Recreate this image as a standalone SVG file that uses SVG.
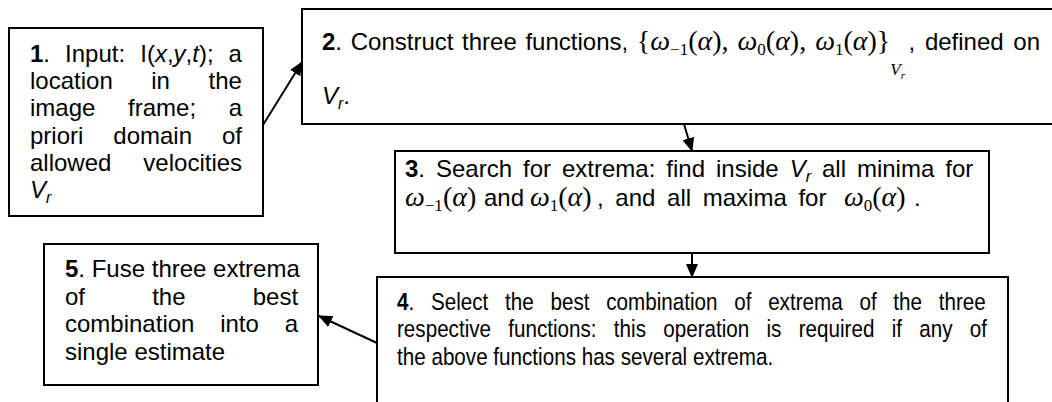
<svg xmlns="http://www.w3.org/2000/svg" width="1052" height="402" viewBox="0 0 1052 402">
<style>
.box{fill:#fff;stroke:#000;stroke-width:2}
.t{font-family:"Liberation Sans",Arial,sans-serif;font-size:24px;fill:#000}
.b{font-weight:bold}
.i{font-style:italic}
.sub{font-size:16px}
.m{font-family:"Liberation Serif","Times New Roman",serif;font-size:28px;font-style:italic}
.mr{font-family:"Liberation Serif","Times New Roman",serif;font-size:28px;font-style:normal}
.ms{font-family:"Liberation Serif","Times New Roman",serif;font-size:17px;font-style:normal}
.conn line{stroke:#000;stroke-width:2;marker-end:url(#ah)}
</style>
<defs>
<marker id="ah" markerUnits="userSpaceOnUse" markerWidth="14" markerHeight="12" refX="13" refY="6" orient="auto">
<path d="M0,0 L14,6 L0,12 z" fill="#000"/>
</marker>
</defs>
<rect width="1052" height="402" fill="#fff"/>

<g id="node1">
<rect class="box" x="9" y="28" width="254" height="188"/>
<text class="t" x="30" y="62" word-spacing="8.4"><tspan class="b">1</tspan>. Input: I(<tspan class="i">x</tspan>,<tspan class="i">y</tspan>,<tspan class="i">t</tspan>); a</text>
<text class="t" x="30" y="89" word-spacing="31.9">location in the</text>
<text class="t" x="30" y="116" word-spacing="26">image frame; a</text>
<text class="t" x="30" y="143.5" word-spacing="23.3">priori domain of</text>
<text class="t" x="30" y="171" word-spacing="25.3">allowed velocities</text>
<text class="t i" x="30" y="198">V<tspan class="sub" dy="5">r</tspan></text>
</g>

<g id="node2">
<rect class="box" x="302" y="9" width="770" height="115"/>
<text class="t" x="322" y="50" word-spacing="2"><tspan class="b">2</tspan>. Construct three functions, <tspan class="mr">{</tspan><tspan class="m">ω</tspan><tspan class="ms" dy="5">−1</tspan><tspan class="mr" dy="-5">(</tspan><tspan class="m">α</tspan><tspan class="mr">), </tspan><tspan class="m">ω</tspan><tspan class="ms" dy="5">0</tspan><tspan class="mr" dy="-5">(</tspan><tspan class="m">α</tspan><tspan class="mr">), </tspan><tspan class="m">ω</tspan><tspan class="ms" dy="5">1</tspan><tspan class="mr" dy="-5">(</tspan><tspan class="m">α</tspan><tspan class="mr">)}</tspan><tspan class="m" style="font-size:17px" dy="25">V</tspan><tspan class="m" style="font-size:11px" dy="4">r</tspan></text>
<text class="t" x="1040" y="50" text-anchor="end" word-spacing="3">, defined on</text>
<text class="t i" x="322" y="104">V<tspan class="sub" dy="5">r</tspan><tspan dy="-5" style="font-style:normal">.</tspan></text>
</g>

<g id="node3">
<rect class="box" x="395" y="151" width="594" height="102"/>
<text class="t" x="405" y="177" word-spacing="4.3"><tspan class="b">3</tspan>. Search for extrema: find inside <tspan class="i">V</tspan><tspan class="i sub" dy="5">r</tspan><tspan dy="-5"> all minima for</tspan></text>
<text class="t" x="405" y="206"><tspan class="m">ω</tspan><tspan class="ms" dy="5">−1</tspan><tspan class="mr" dy="-5">(</tspan><tspan class="m">α</tspan><tspan class="mr">)</tspan></text>
<text class="t" x="484" y="206">and</text>
<text class="t" x="530" y="206"><tspan class="m">ω</tspan><tspan class="ms" dy="5">1</tspan><tspan class="mr" dy="-5">(</tspan><tspan class="m">α</tspan><tspan class="mr">)</tspan></text>
<text class="t" x="597" y="206" word-spacing="5">, and all maxima for</text>
<text class="t" x="844" y="206"><tspan class="m">ω</tspan><tspan class="ms" dy="5">0</tspan><tspan class="mr" dy="-5">(</tspan><tspan class="m">α</tspan><tspan class="mr">)</tspan></text>
<text class="t" x="914" y="206">.</text>
</g>

<g id="node4">
<rect class="box" x="377" y="277" width="631" height="140"/>
<g transform="translate(397,0) scale(0.86,1)">
<text class="t" x="0" y="310" word-spacing="12.8"><tspan class="b">4</tspan>. Select the best combination of extrema of the three</text>
<text class="t" x="0" y="337.5" word-spacing="13.4">respective functions: this operation is required if any of</text>
<text class="t" x="0" y="365">the above functions has several extrema.</text>
</g>
</g>

<g id="node5">
<rect class="box" x="44" y="244" width="274" height="141"/>
<text class="t" x="65" y="277"><tspan class="b">5</tspan>. Fuse three extrema</text>
<text class="t" x="65" y="304.5" word-spacing="60.5">of the best</text>
<text class="t" x="65" y="332" word-spacing="19.1">combination into a</text>
<text class="t" x="65" y="359.5">single estimate</text>
</g>

<g id="connectors" class="conn">
<line x1="263" y1="125" x2="302" y2="62"/>
<line x1="684" y1="124" x2="692" y2="151"/>
<line x1="692" y1="254" x2="692" y2="277"/>
<line x1="377" y1="343" x2="319" y2="316"/>
</g>
</svg>
